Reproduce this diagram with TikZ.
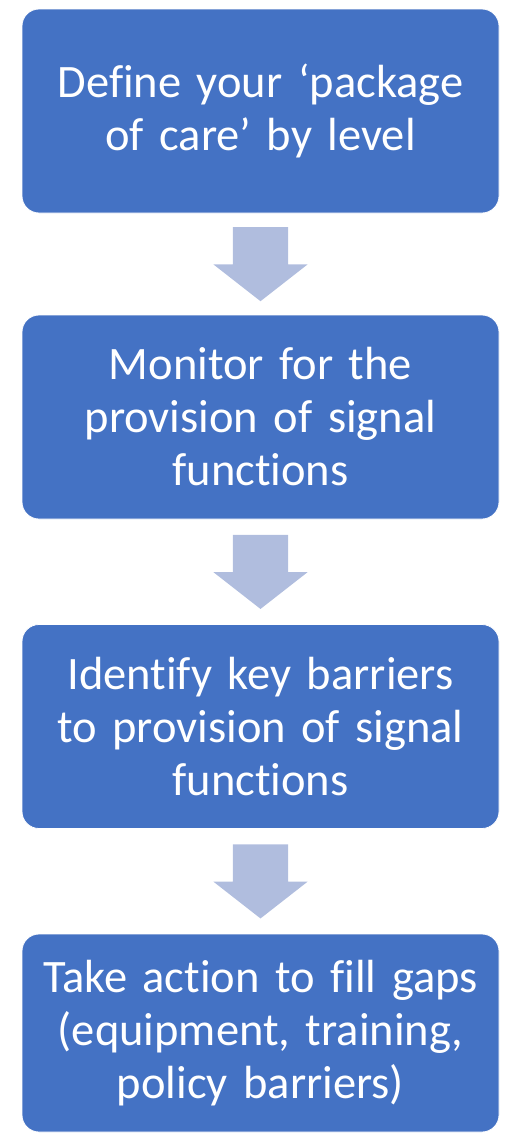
\documentclass[tikz,border=0pt]{standalone}
\usepackage{fontspec}
\setmainfont[Ligatures=NoCommon]{Carlito}
\definecolor{stepblue}{RGB}{68,114,196}
\definecolor{arrowblue}{RGB}{176,189,222}
\usetikzlibrary{calc,shapes.arrows}

\begin{document}
\begin{tikzpicture}[
  x=1pt,y=1pt,
  stepbox/.style={draw=white,line width=0.8pt,fill=stepblue,rounded corners=17pt,
    text=white,align=center,font=\fontsize{46.5}{53}\selectfont,
    minimum width=477pt,minimum height=204pt,text width=460pt,inner sep=0pt},
  downarrow/.style={single arrow,fill=arrowblue,draw=none,rotate=-90,anchor=tail,
    minimum width=94pt,minimum height=74pt,inner xsep=0pt,inner ysep=27.5pt,
    single arrow head extend=19.5pt,single arrow tip angle=104}
]
  \useasboundingbox (0,0) rectangle (505,-1135);
  % Steps
  \node[stepbox] (s1) at (260.5,-111) {Define your ‘package\\of care’ by level};
  \node[stepbox] (s2) at (260.5,-417) {Monitor for the\\provision of signal\\functions};
  \node[stepbox] (s3) at (260.5,-726.5) {Identify key barriers\\to provision of signal\\functions};
  \node[stepbox,minimum height=198pt] (s4) at (260.5,-1033) {Take action to fill gaps\\(equipment, training,\\policy barriers)};
  % Arrows between steps
  \node[downarrow] (a1) at ($(s1.south)!0.5!(s2.north)+(0,37)$) {};
  \node[downarrow] (a2) at ($(s2.south)!0.5!(s3.north)+(0,37)$) {};
  \node[downarrow] (a3) at ($(s3.south)!0.5!(s4.north)+(0,37)$) {};
\end{tikzpicture}
\end{document}
